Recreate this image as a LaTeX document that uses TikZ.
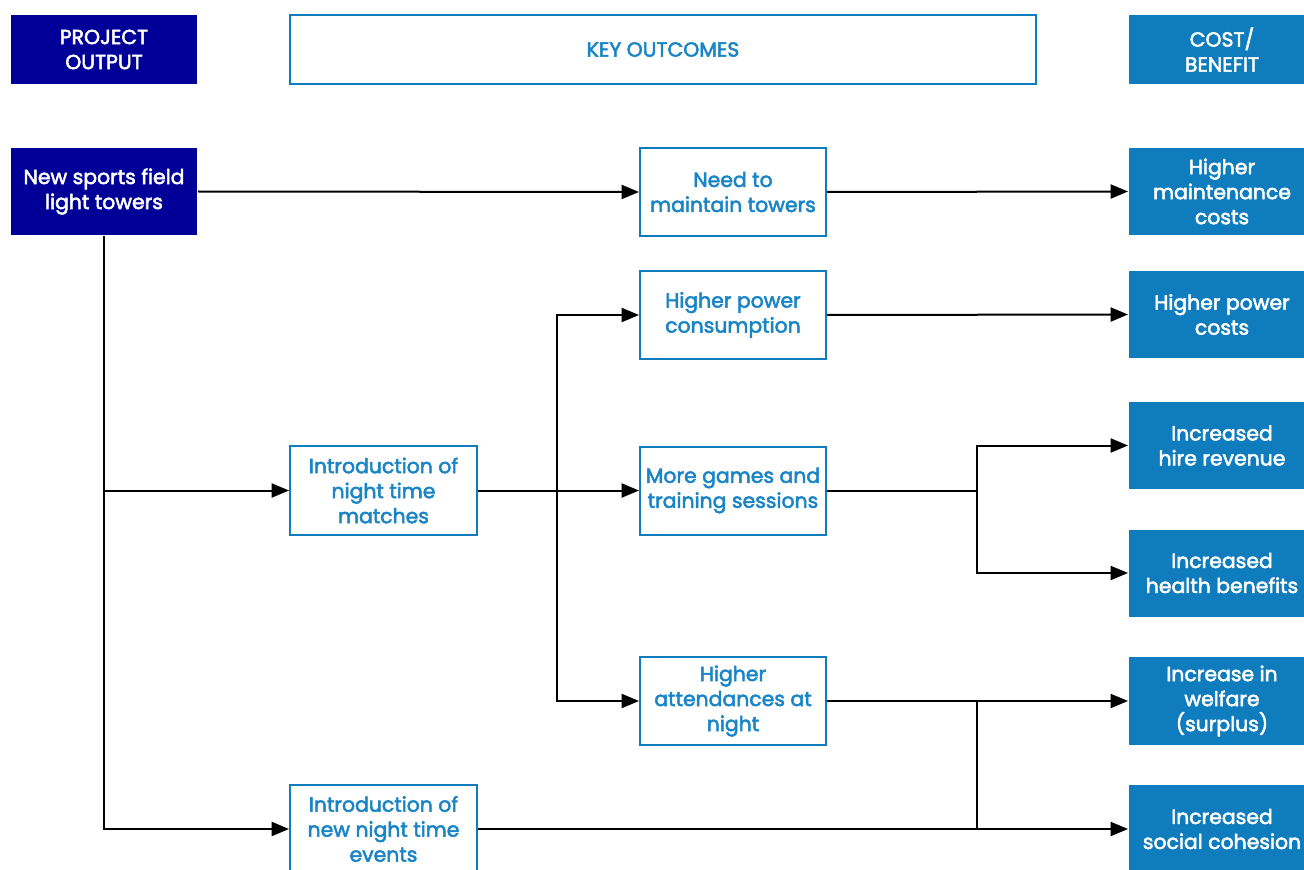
\documentclass[tikz,border=0pt]{standalone}
\usepackage{fontspec}
\setmainfont{Poppins}[BoldFont=Poppins, BoldFeatures={FakeBold=2.5}]
\usetikzlibrary{arrows.meta}
\definecolor{navy}{RGB}{0,0,153}
\definecolor{cbblue}{RGB}{15,124,190}
\definecolor{txtblue}{RGB}{26,133,198}
\begin{document}
\begin{tikzpicture}[x=0.75pt,y=-0.75pt,
  base/.style={font=\fontsize{15.3}{18.75}\selectfont\bfseries, align=center, inner sep=0pt, line width=1.5pt},
  sz/.style 2 args={minimum width={#1*0.75pt}, minimum height={#2*0.75pt}},
  navybox/.style={base, fill=navy, text=white},
  outbox/.style={base, draw=cbblue, fill=white, text=txtblue},
  cbbox/.style={base, fill=cbblue, text=white},
  conn/.style={line width=1.5pt, black},
  arr/.style={conn, -{Triangle[length=13pt,width=10.5pt]}}
]
\useasboundingbox (0,0) rectangle (1304,870);
\clip (0,0) rectangle (1304,870);

% headers
\node[navybox, sz={186}{69}] (po) at (104,49.5) {PROJECT\\OUTPUT};
\node[outbox, sz={746}{69}] (ko) at (663,49.5) {KEY OUTCOMES};
\node[cbbox, sz={186}{69}] (cb) at (1222,49.5) {COST/\\BENEFIT};

% nodes
\node[navybox, sz={186}{87}] (sports) at (104,191.5) {New sports field\\light towers};
\node[outbox, sz={186}{88}] (need) at (733,192) {Need to\\maintain towers};
\node[cbbox, sz={186}{87}] (maint) at (1222,191.5) {Higher\\maintenance\\costs};
\node[outbox, sz={186}{88}] (powcons) at (733,315) {Higher power\\consumption};
\node[cbbox, sz={186}{87}] (powcost) at (1222,314.5) {Higher power\\costs};
\node[cbbox, sz={186}{87}] (hire) at (1222,445.5) {Increased\\hire revenue};
\node[outbox, sz={187}{89}] (matches) at (383.5,490.5) {Introduction of\\night time\\matches};
\node[outbox, sz={186}{88}] (games) at (733,490.5) {More games and\\training sessions};
\node[cbbox, sz={186}{87}] (health) at (1222,573) {Increased\\health benefits};
\node[outbox, sz={186}{88}] (attend) at (733,701) {Higher\\attendances at\\night};
\node[cbbox, sz={186}{88}] (welfare) at (1222,701) {Increase in\\welfare\\(surplus)};
\node[outbox, sz={187}{88}] (events) at (383.5,829) {Introduction of\\new night time\\events};
\node[cbbox, sz={186}{88}] (social) at (1222,829) {Increased\\social cohesion};

% junctions
\coordinate (j1) at (557,490.5);
\coordinate (j2) at (977,490.5);
\coordinate (j3) at (977,701);
\coordinate (j4) at (977,829);

% connectors
\draw[arr] (sports.east) -- (need.west);
\draw[arr] (need.east) -- (maint.west);
\draw[arr] (sports.south) |- (matches.west);
\draw[arr] (sports.south) |- (events.west);
\draw[arr] (matches.east) -- (games.west);
\draw[arr] (j1) |- (powcons.west);
\draw[arr] (j1) |- (attend.west);
\draw[arr] (powcons.east) -- (powcost.west);
\draw[conn] (games.east) -- (j2);
\draw[arr] (j2) |- (hire.west);
\draw[arr] (j2) |- (health.west);
\draw[arr] (attend.east) -- (welfare.west);
\draw[arr] (events.east) -- (social.west);
\draw[conn] (j3) -- (j4);
\end{tikzpicture}
\end{document}
